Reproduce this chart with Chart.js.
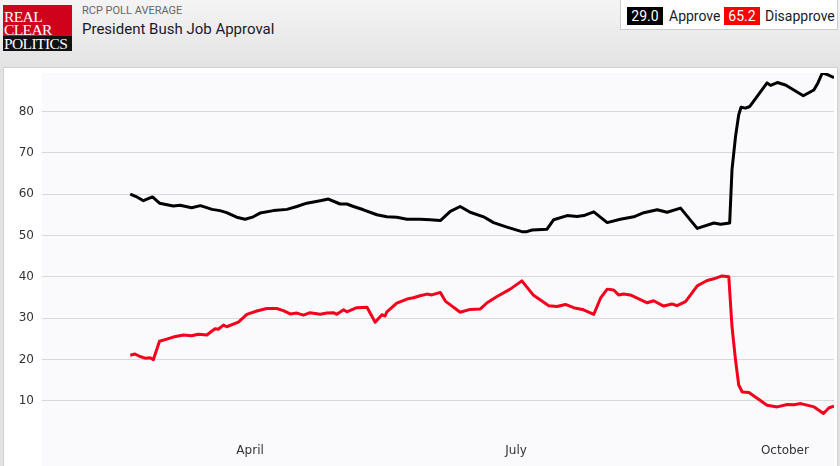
<!DOCTYPE html>
<html>
<head>
<meta charset="utf-8">
<script src="https://cdn.jsdelivr.net/npm/chart.js@4"></script>
<style>
  html, body { margin: 0; padding: 0; }
  body { width: 840px; height: 466px; overflow: hidden; position: relative;
         background: linear-gradient(#f4f4f4, #e2e2e2 70px); font-family: Roboto, sans-serif; }
  #logo { position: absolute; left: 3px; top: 5px; width: 69px; height: 46px; }
  #logo .red { position: absolute; left: 0; top: 0; width: 69px; height: 31px; background: #d0021b; }
  #logo .blk { position: absolute; left: 0; top: 31px; width: 69px; height: 15px; background: #111; }
  #logo span { position: absolute; left: 1px; color: #fff; font-family: "Liberation Serif", serif;
               font-size: 15.5px; line-height: 13px; letter-spacing: -0.6px; }
  #sub { position: absolute; left: 82px; top: 4px; font-size: 11px; color: #666; }
  #title { position: absolute; left: 82px; top: 20px; font-size: 15px; color: #1a1a2a; }
  #legend { position: absolute; left: 620px; top: -1px; width: 218px; height: 31px; background: #fff;
            border: 1px solid #ccc; box-sizing: border-box; font-size: 14px; color: #1a1a2a; white-space: nowrap; }
  #legend .sw { position: absolute; top: 7px; height: 18px; line-height: 18px; color: #fff; text-align: center; width: 36px; }
  #legend .lb { position: absolute; top: 7px; line-height: 18px; }
  #panel { position: absolute; left: 3px; top: 67px; width: 835px; height: 410px; background: #fff;
           border: 1px solid #d0d0d0; box-sizing: border-box; }
  #wrap { position: absolute; left: 4px; top: 68px; width: 833px; height: 398px; }
</style>
</head>
<body>
<div id="logo">
  <div class="red"></div><div class="blk"></div>
  <span style="top:5px">REAL</span>
  <span style="top:18px">CLEAR</span>
  <span style="top:32px">POLITICS</span>
</div>
<div id="sub">RCP POLL AVERAGE</div>
<div id="title">President Bush Job Approval</div>
<div id="legend">
  <div class="sw" style="left:6px;background:#000">29.0</div>
  <div class="lb" style="left:48px">Approve</div>
  <div class="sw" style="left:103px;background:#ff0000">65.2</div>
  <div class="lb" style="left:144px">Disapprove</div>
</div>
<div id="panel"></div>
<div id="wrap"><canvas id="c"></canvas></div>
<script>
// day of year 2001 (Jan 1 = 0)
var approveDays = [49, 51, 53.5, 56.6, 59, 63.7, 66, 70, 73, 77, 79.7, 82, 85.4, 88.3, 91.1, 93.4, 98, 102.6, 106, 109.4,
  114, 116.8, 120.8, 123.1, 125.4, 128.8, 133.4, 136.8, 140.2, 143.7, 148.2, 151.6, 155.1, 158.5, 161.9, 165.3, 169.9,
  173.3, 177.9, 183, 184.7, 186.5, 191.6, 193.9, 198.5, 201.9, 204.2, 207.6, 212.2, 216.7, 221.3, 224.7, 229.3, 232.7,
  237.3, 243, 248.7, 251, 254.1, 254.9, 256.1, 257.2, 258, 259.5, 261, 266.9, 268.1, 270.4, 273.2, 279.3, 282.9, 284.3,
  285.8, 287.6, 289.8];
var approve = [60.0, 59.4, 58.4, 59.3, 57.8, 57.1, 57.3, 56.7, 57.2, 56.3, 56.0, 55.5, 54.4, 53.9, 54.5, 55.4, 56.0, 56.3, 57.0, 57.8,
  58.4, 58.8, 57.6, 57.6, 57.0, 56.2, 55.0, 54.5, 54.4, 53.9, 53.9, 53.8, 53.6, 55.8, 57.0, 55.6, 54.5,
  53.1, 52.0, 50.9, 50.9, 51.3, 51.5, 53.8, 54.8, 54.6, 54.8, 55.7, 53.1, 53.9, 54.5, 55.5, 56.2, 55.6,
  56.6, 51.7, 53.0, 52.7, 53.0, 65.9, 73.9, 79.2, 81.0, 80.8, 81.2, 86.9, 86.3, 87.0, 86.4, 83.8, 85.2, 86.9,
  89.3, 88.9, 88.2];

var disapproveDays = [49, 50.6, 52.3, 54.1, 55.8, 56.9, 59, 61.5, 63.7, 67.2, 70, 72.3, 75.2, 78, 79.1, 80.9, 82, 86, 88.9, 92.3,
  95.7, 99.1, 101.4, 103.7, 106, 108.3, 110.5, 114, 116.3, 118.5, 119.7, 122, 123.1, 126.5, 130, 132.8, 135.1, 136.2,
  136.8, 140.2, 143.7, 145.9, 148.2, 150.5, 152.2, 155.1, 156.8, 161.9, 165.3, 168.8, 171.1, 174.5, 179, 183, 187,
  192.2, 195, 197.9, 200.7, 204.1, 207.6, 209.9, 212.2, 214.4, 216.1, 217.8, 220.1, 225.9, 228.1, 231.5, 234.4,
  236.1, 239, 243, 246.4, 248.7, 251.5, 253.8, 254.9, 256.1, 257.2, 258.4, 260.7, 263.5, 266.9, 270.4, 273.8,
  276.1, 278.4, 283, 286.2, 288.1, 289.8];
var disapprove = [21.0, 21.3, 20.7, 20.3, 20.4, 19.9, 24.4, 24.9, 25.4, 25.9, 25.7, 26.1, 25.9, 27.4, 27.3, 28.3, 27.9, 29.0, 30.9, 31.7,
  32.3, 32.3, 31.8, 31.0, 31.2, 30.7, 31.3, 30.9, 31.2, 31.3, 30.9, 32.0, 31.5, 32.5, 32.6, 29.0, 30.8, 30.5,
  31.5, 33.6, 34.6, 34.9, 35.4, 35.8, 35.6, 36.2, 34.1, 31.4, 32.1, 32.2, 33.7, 35.2, 37.0, 39.0, 35.5,
  33.0, 32.8, 33.3, 32.5, 32.0, 30.9, 34.8, 37.0, 36.8, 35.6, 35.8, 35.6, 33.7, 34.2, 32.9, 33.4,
  33.0, 34.0, 37.8, 39.1, 39.5, 40.2, 40.0, 27.9, 19.9, 13.8, 12.1, 12.0, 10.6, 8.9, 8.5, 9.1,
  9.0, 9.3, 8.5, 6.9, 8.3, 8.7];

var monthLabels = ['April', 'July', 'October'];
var monthDays = [90, 181, 273];
var yTicks = [10, 20, 30, 40, 50, 60, 70, 80];

function pts(xs, ys) {
  return xs.map(function(x, i) { return {x: x, y: ys[i]}; });
}

var plotBg = {
  id: 'plotBg',
  beforeDraw: function(chart) {
    var a = chart.chartArea, ctx = chart.ctx;
    ctx.save();
    ctx.fillStyle = '#fafafc';
    ctx.fillRect(a.left, a.top, a.right - a.left, a.bottom - a.top);
    ctx.restore();
  },
  afterDraw: function(chart) {
    var ctx = chart.ctx, xs = chart.scales.x;
    ctx.save();
    ctx.font = '12px "DejaVu Sans", sans-serif';
    ctx.fillStyle = '#333';
    ctx.textAlign = 'center';
    ctx.textBaseline = 'middle';
    monthLabels.forEach(function(m, i) {
      ctx.fillText(m, xs.getPixelForValue(monthDays[i]), 383);
    });
    ctx.restore();
  }
};

new Chart('c', {
  type: 'line',
  data: {
    datasets: [
      { label: 'Approve', data: pts(approveDays, approve), borderColor: '#000', borderWidth: 3,
        pointRadius: 0, borderJoinStyle: 'round', tension: 0 },
      { label: 'Disapprove', data: pts(disapproveDays, disapprove), borderColor: '#f5001c', borderWidth: 3,
        pointRadius: 0, borderJoinStyle: 'round', tension: 0 }
    ]
  },
  options: {
    responsive: true,
    maintainAspectRatio: false,
    animation: false,
    layout: { padding: { top: 5, right: 3, left: 0, bottom: 0 } },
    plugins: { legend: { display: false }, tooltip: { enabled: false } },
    scales: {
      x: { type: 'linear', min: 18.8, max: 289.8, display: false },
      y: {
        min: -5.8, max: 89.3,
        afterBuildTicks: function(s) { s.ticks = yTicks.map(function(v) { return {value: v}; }); },
        afterFit: function(s) { s.width = 38; s.paddingTop = 0; s.paddingBottom = 0; },
        border: { display: false },
        grid: { color: '#d9d9d9', lineWidth: 1, drawTicks: false },
        ticks: { padding: 8, color: '#333', font: { family: 'DejaVu Sans', size: 12 } }
      }
    }
  },
  plugins: [plotBg]
});
</script>
</body>
</html>
